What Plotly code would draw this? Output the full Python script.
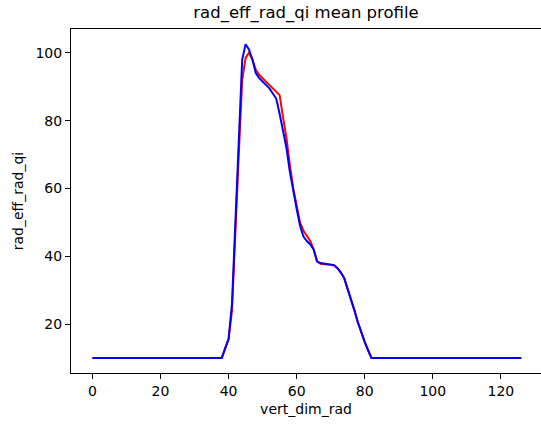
import plotly.graph_objects as go

# profile heights 0..126
vert_dim_rad = list(range(127))

flat_low = [10.0] * 39  # 0..38
flat_high = [10.0] * 44  # 83..126

red_mid = [13.0, 15.5, 24.0, 45.0, 70.0, 92.0, 98.5, 100.0, 98.0, 95.0, 93.5,
           92.5, 91.5, 90.5, 89.5, 88.5, 87.5, 81.0, 75.0, 67.0, 60.0,
           55.0, 50.0, 47.5, 46.0, 44.5, 42.0, 38.5, 37.8, 37.6, 37.6,
           37.5, 37.3, 36.5, 35.2, 33.5, 30.5, 27.2, 24.0, 20.5, 17.5,
           14.8, 12.3, 10.0]  # 39..82
blue_mid = [12.8, 15.6, 26.0, 50.0, 75.0, 98.0, 102.5, 101.0, 98.0, 94.0, 92.5,
            91.5, 90.5, 89.5, 88.0, 86.5, 82.0, 77.0, 72.0, 65.0, 59.0,
            54.0, 49.0, 45.8, 44.5, 43.5, 42.0, 38.5, 38.0, 37.9, 37.8,
            37.7, 37.4, 36.5, 35.2, 33.5, 30.5, 27.2, 24.0, 20.5, 17.5,
            14.8, 12.3, 10.0]

red_profile = flat_low + red_mid + flat_high
blue_profile = flat_low + blue_mid + flat_high

fig = go.Figure()
fig.add_trace(go.Scatter(x=vert_dim_rad, y=red_profile, mode="lines",
                         line=dict(color="red", width=2), showlegend=False))
fig.add_trace(go.Scatter(x=vert_dim_rad, y=blue_profile, mode="lines",
                         line=dict(color="blue", width=2), showlegend=False))

axis_style = dict(showline=True, linecolor="black", linewidth=1, mirror=True,
                  showgrid=False, zeroline=False, ticks="outside", ticklen=5,
                  tickcolor="black", tickfont=dict(size=14, color="black"))

fig.update_layout(
    width=541, height=431,
    margin=dict(l=71, r=0, t=29, b=58),
    plot_bgcolor="white", paper_bgcolor="white",
    font=dict(family="DejaVu Sans", color="black"),
    title=dict(text="rad_eff_rad_qi mean profile", xref="paper", x=0.5,
               xanchor="center", y=1 - 12 / 431, yanchor="middle",
               font=dict(size=16.5)),
    xaxis=dict(title=dict(text="vert_dim_rad", font=dict(size=14), standoff=6),
               range=[-6.3, 131.8], tickvals=[0, 20, 40, 60, 80, 100, 120], **axis_style),
    yaxis=dict(title=dict(text="rad_eff_rad_qi", font=dict(size=14), standoff=8),
               range=[5.6, 107.0], tickvals=[20, 40, 60, 80, 100], **axis_style),
)

# drop the default page margin so the figure sits at the window's corner
fig.write_html("out.html", config={"displayModeBar": False},
               post_script="document.body.style.margin='0';")
